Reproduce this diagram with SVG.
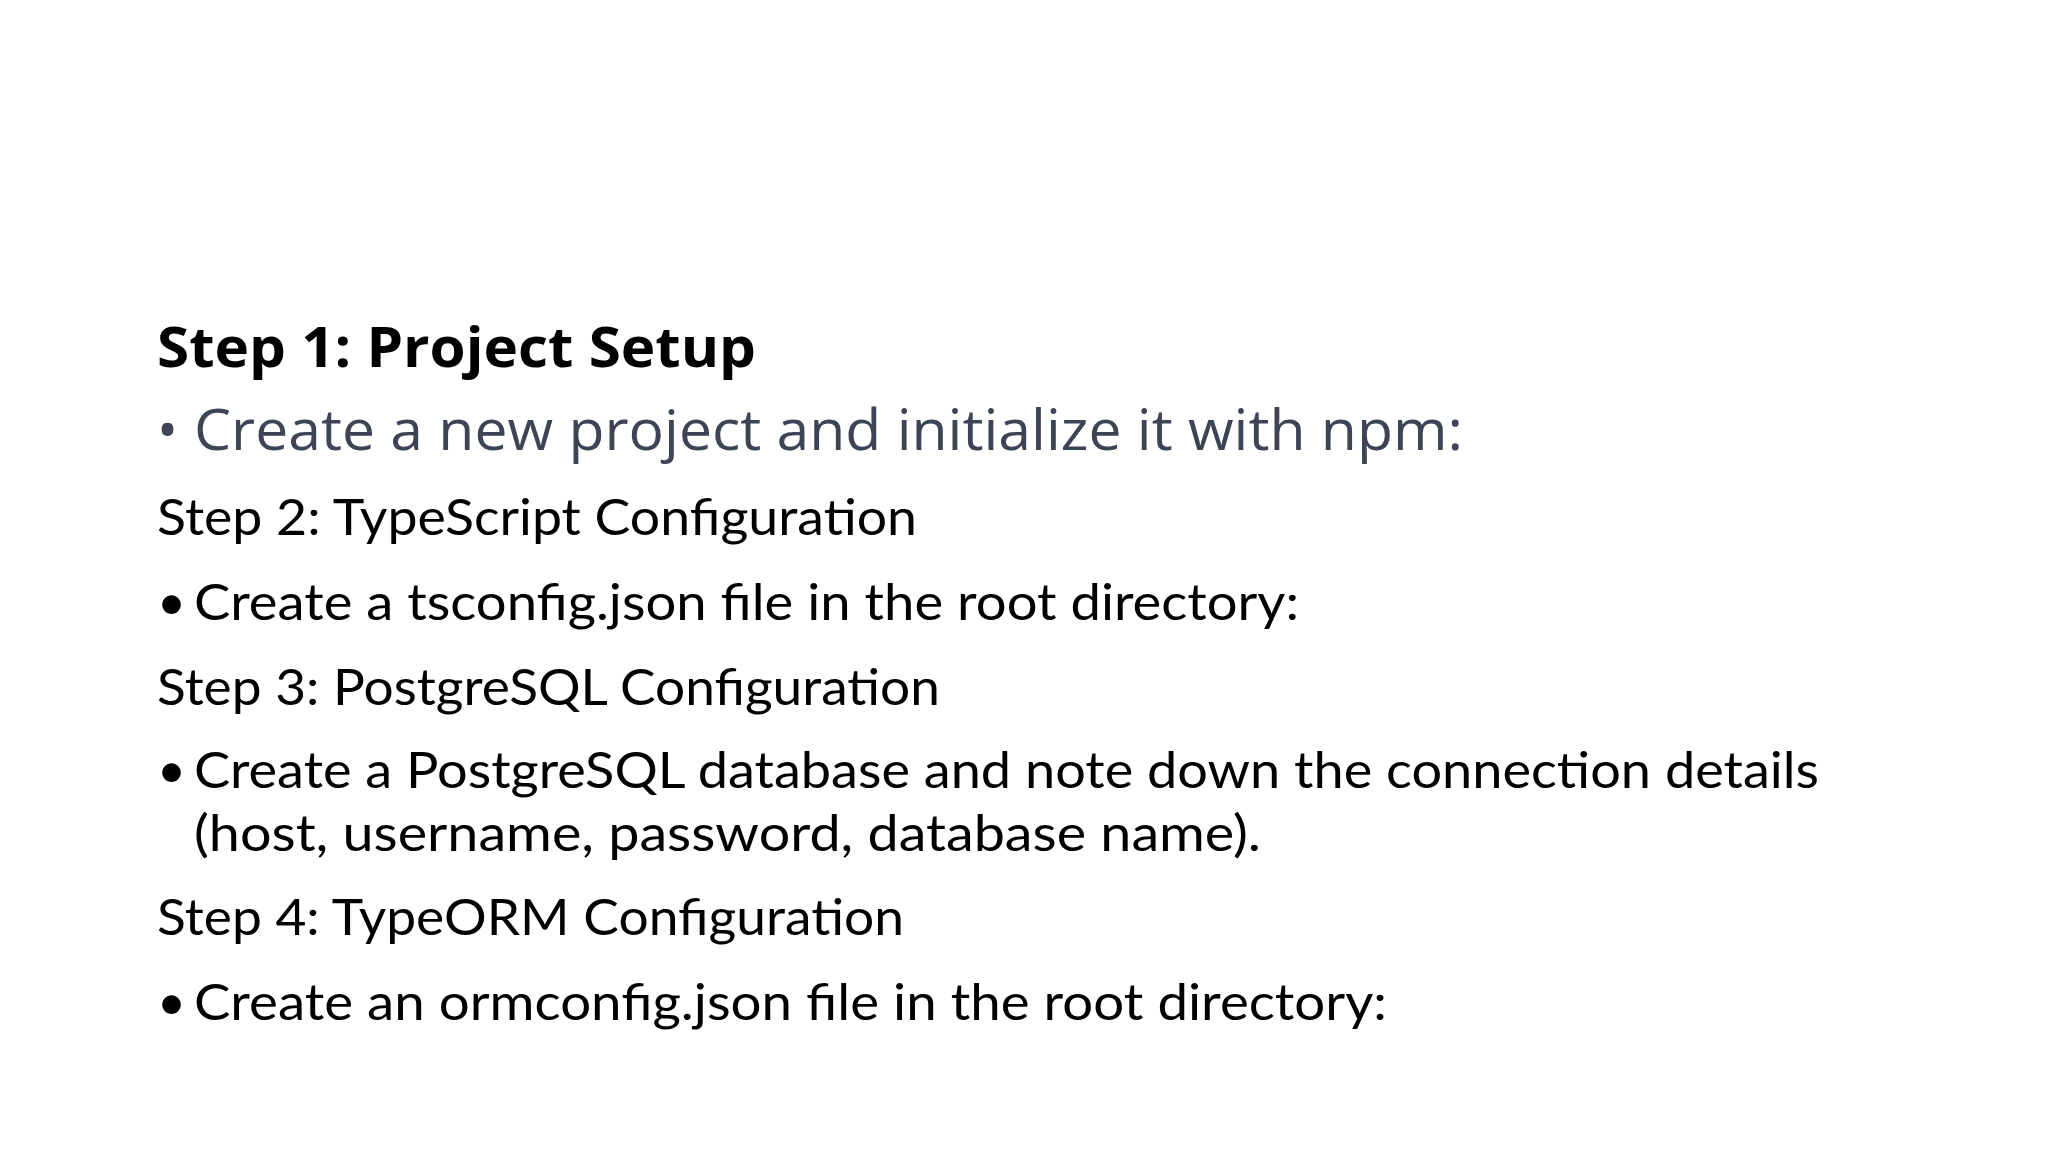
<svg xmlns="http://www.w3.org/2000/svg" width="2048" height="1152" viewBox="0 0 2048 1152">
<style>
.c{font-family:Lato,"Liberation Sans",sans-serif;font-size:50px;fill:#000}
.o{font-family:"Open Sans","Noto Sans",sans-serif}
</style>
<rect width="2048" height="1152" fill="#fff"/>
<g id="step1">
<text class="o" x="157" y="367" font-size="56" font-weight="bold" fill="#000" textLength="599" lengthAdjust="spacingAndGlyphs">Step 1: Project Setup</text>
<text class="o" x="157" y="450" font-size="56" fill="#3d4455">•</text>
<text class="o" x="194" y="450" font-size="56" fill="#3d4455" textLength="1269" lengthAdjust="spacingAndGlyphs">Create a new project and initialize it with npm:</text>
</g>
<g id="step2">
<text class="c" x="157" y="535" textLength="760" lengthAdjust="spacingAndGlyphs">Step 2: TypeScript Configuration</text>
<text class="c" x="157" y="620">•</text>
<text class="c" x="194" y="620" textLength="1105" lengthAdjust="spacingAndGlyphs">Create a tsconfig.json file in the root directory:</text>
</g>
<g id="step3">
<text class="c" x="157" y="705" textLength="783" lengthAdjust="spacingAndGlyphs">Step 3: PostgreSQL Configuration</text>
<text class="c" x="157" y="788">•</text>
<text class="c" x="194" y="788" textLength="1625" lengthAdjust="spacingAndGlyphs">Create a PostgreSQL database and note down the connection details</text>
<text class="c" x="194" y="851" textLength="1067" lengthAdjust="spacingAndGlyphs">(host, username, password, database name).</text>
</g>
<g id="step4">
<text class="c" x="157" y="935" textLength="747" lengthAdjust="spacingAndGlyphs">Step 4: TypeORM Configuration</text>
<text class="c" x="157" y="1020">•</text>
<text class="c" x="194" y="1020" textLength="1193" lengthAdjust="spacingAndGlyphs">Create an ormconfig.json file in the root directory:</text>
</g>
</svg>
